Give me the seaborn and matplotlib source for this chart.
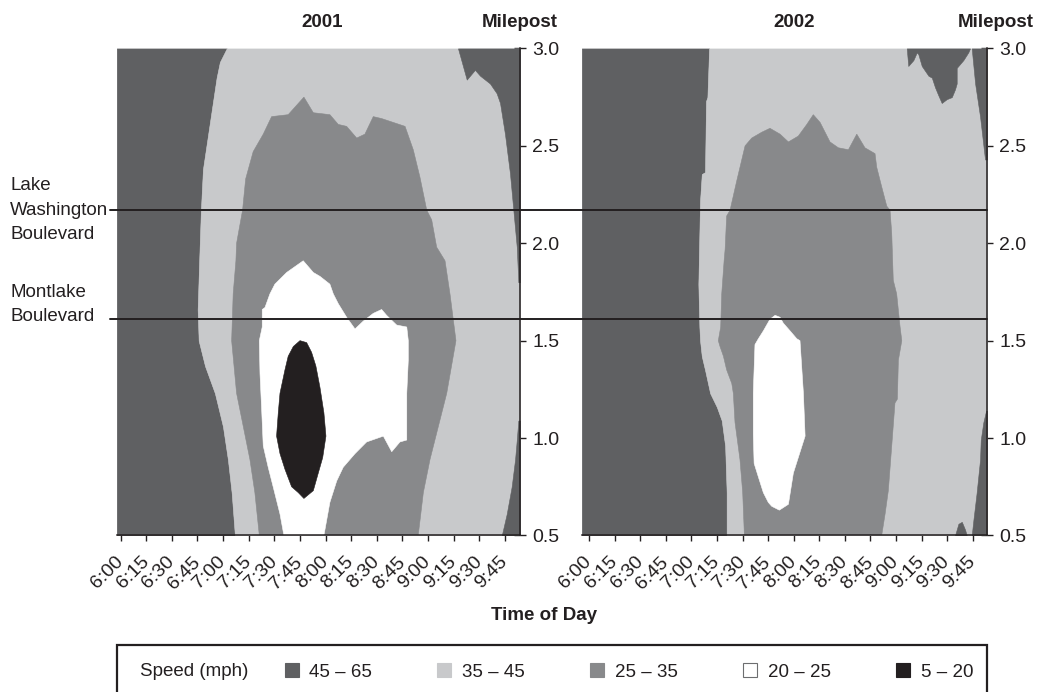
import matplotlib
matplotlib.use("Agg")
import matplotlib.pyplot as plt
import matplotlib.transforms as mtransforms
from matplotlib.lines import Line2D
from matplotlib.patches import Rectangle
import seaborn as sns

# speed bands (mph) and the grey used for each
bands = ["45 – 65", "35 – 45", "25 – 35", "20 – 25", "5 – 20"]
band_colors = ["#5f6062", "#c8c9cb", "#88898b", "#ffffff", "#231f20"]

# x axis = minutes after 6:00
time_ticks = [0, 15, 30, 45, 60, 75, 90, 105, 120, 135, 150, 165, 180, 195, 210, 225]
time_labels = ["6:00", "6:15", "6:30", "6:45", "7:00", "7:15", "7:30", "7:45",
               "8:00", "8:15", "8:30", "8:45", "9:00", "9:15", "9:30", "9:45"]
mile_ticks = [0.5, 1.0, 1.5, 2.0, 2.5, 3.0]

landmarks = ["Lake\nWashington\nBoulevard", "Montlake\nBoulevard"]
landmark_mile = [2.17, 1.61]

# ---- 2001 ----
edge45_2001_mile = [3.00, 2.93, 2.85, 2.68, 2.38, 2.17, 1.91, 1.66, 1.50, 1.37, 1.23, 1.06, 0.89, 0.72, 0.50]
edge45_2001_time = [62.1, 58.1, 56.2, 53.3, 48.2, 47.0, 46.0, 45.1, 45.7, 49.4, 55.2, 59.9, 62.8, 65.0, 66.9]

band25_2001_time = [81.2, 78.6, 75.7, 71.8, 67.9, 65.0, 65.9, 67.5, 67.9, 71.4, 73.2, 77.6, 83.5, 88.4,
                    98.1, 107.3, 112.8, 122.5, 127.4, 132.3, 138.2, 143.0, 147.9, 152.8, 166.5,
                    171.3, 175.2, 179.2, 182.1, 185.0, 189.9, 192.8, 196.3, 190.9, 186.0, 181.1, 177.2, 174.2]
band25_2001_mile = [0.50, 0.72, 0.89, 1.06, 1.23, 1.50, 1.74, 1.91, 2.00, 2.17, 2.33, 2.47, 2.56, 2.65,
                    2.66, 2.75, 2.67, 2.66, 2.61, 2.60, 2.54, 2.56, 2.65, 2.64, 2.60,
                    2.48, 2.34, 2.17, 2.12, 1.98, 1.91, 1.74, 1.50, 1.23, 1.06, 0.89, 0.72, 0.50]

band20_2001_time = [95.6, 93.3, 89.3, 86.4, 83.5, 82.6, 81.6, 81.2, 82.9, 82.9, 84.5, 87.4, 90.3, 97.2,
                    106.9, 112.8, 116.7, 122.5, 124.5, 127.4, 132.3, 137.2, 142.0, 147.9, 152.8,
                    155.7, 161.6, 167.5, 168.4, 168.4, 167.5, 167.5, 163.5, 158.7, 153.8, 144.0,
                    137.2, 130.3, 126.5, 122.5, 119.0]
band20_2001_mile = [0.50, 0.61, 0.75, 0.85, 0.96, 1.14, 1.33, 1.50, 1.57, 1.66, 1.67, 1.74, 1.79, 1.85,
                    1.91, 1.85, 1.83, 1.79, 1.74, 1.69, 1.62, 1.56, 1.60, 1.64, 1.66,
                    1.63, 1.58, 1.57, 1.50, 1.40, 1.23, 0.99, 0.98, 0.93, 1.01, 0.98,
                    0.92, 0.85, 0.78, 0.67, 0.50]

band5_2001_time = [105.0, 101.1, 98.1, 96.2, 93.3, 92.3, 91.3, 93.3, 96.2, 100.1, 104.0,
                   107.3, 112.8, 115.7, 118.3, 120.2, 119.0, 116.7, 114.3, 111.8, 108.9]
band5_2001_mile = [1.50, 1.47, 1.42, 1.35, 1.23, 1.13, 1.01, 0.92, 0.84, 0.75, 0.72,
                   0.69, 0.73, 0.82, 0.90, 1.01, 1.13, 1.26, 1.37, 1.44, 1.49]

# fast traffic coming back late in the peak (filled from the top / from the right)
late_top_2001_time = [197.5, 202.6, 207.4, 210.4, 216.2, 220.1, 222.1, 225.0, 227.9, 229.9, 231.9, 232.8, 233.8]
late_top_2001_mile = [3.00, 2.84, 2.89, 2.86, 2.82, 2.77, 2.72, 2.56, 2.36, 2.17, 1.98, 1.80, 1.80]
late_low_2001_mile = [0.50, 0.61, 0.75, 0.89, 0.99, 1.09]
late_low_2001_time = [223.1, 226.0, 228.9, 230.9, 231.9, 232.8]

# ---- 2002 ----
edge45_2002_mile = [3.00, 2.75, 2.73, 2.365, 2.355, 2.22, 2.05, 1.79, 1.57, 1.50, 1.42, 1.35,
                    1.23, 1.16, 1.09, 0.96, 0.72, 0.50]
edge45_2002_time = [70.4, 69.4, 68.6, 68.0, 66.1, 65.1, 64.7, 64.1, 64.7, 65.1, 66.1, 68.0,
                    71.0, 74.9, 77.8, 79.8, 80.7, 80.7]

band25_2002_time = [91.1, 90.1, 88.5, 85.6, 84.6, 83.7, 80.7, 78.8, 76.8, 75.8, 77.2, 77.8, 79.2,
                    79.8, 80.7, 82.7, 86.6, 91.5, 95.4, 101.3, 106.1, 112.0, 116.9, 122.7, 127.7,
                    131.5, 135.5, 141.3, 146.2, 152.1, 157.0, 161.8, 167.7, 168.7, 171.6, 174.6,
                    176.5, 177.5, 178.4, 180.4, 182.4, 183.4, 181.4, 180.8, 179.4, 177.5, 175.5,
                    173.6, 171.6]
band25_2002_mile = [0.50, 0.72, 0.89, 1.08, 1.23, 1.28, 1.35, 1.42, 1.47, 1.50, 1.57, 1.74, 1.91,
                    1.97, 2.14, 2.17, 2.32, 2.50, 2.54, 2.57, 2.59, 2.56, 2.52, 2.55, 2.61,
                    2.66, 2.62, 2.52, 2.49, 2.48, 2.56, 2.49, 2.46, 2.39, 2.29, 2.19,
                    2.17, 2.05, 1.81, 1.74, 1.57, 1.50, 1.40, 1.20, 1.18, 0.96, 0.73,
                    0.61, 0.50]

band20_2002_time = [109.1, 106.1, 102.2, 99.3, 97.3, 96.3, 96.3, 96.8, 99.3, 102.2, 105.1, 107.1,
                    111.6, 116.9, 119.8, 122.7, 126.7, 125.7, 123.7, 121.8, 117.9, 113.9, 112.0]
band20_2002_mile = [1.63, 1.61, 1.55, 1.51, 1.48, 1.23, 1.02, 0.87, 0.80, 0.72, 0.67, 0.65,
                    0.63, 0.66, 0.82, 0.90, 1.01, 1.23, 1.50, 1.51, 1.55, 1.59, 1.62]

late_top_2002_time = [186.3, 187.2, 190.2, 192.2, 193.1, 195.1, 199.0, 201.0, 202.9, 204.8,
                      206.8, 209.8, 212.7, 214.6, 215.6, 215.6, 219.5, 222.4, 223.4]
late_top_2002_mile = [3.00, 2.91, 2.94, 2.98, 2.97, 2.91, 2.86, 2.85, 2.80, 2.76,
                      2.72, 2.74, 2.75, 2.79, 2.82, 2.90, 2.94, 2.98, 3.00]
late_edge_2002_time = [224.4, 226.4, 229.3, 232.2, 233.4]
late_edge_2002_mile = [3.00, 2.82, 2.65, 2.43, 2.43]
late_low_2002_mile = [0.50, 0.58, 0.72, 0.89, 0.99, 1.08, 1.14]
late_low_2002_time = [224.4, 225.4, 227.3, 229.3, 229.7, 231.2, 232.8]
late_bump_2002_time = [214.6, 216.6, 218.6, 220.5, 221.5]
late_bump_2002_mile = [0.50, 0.56, 0.57, 0.53, 0.50]

sns.set_theme(style="ticks")
plt.rcParams["font.family"] = ["Liberation Sans", "DejaVu Sans"]
ink = "#231f20"
plt.rcParams["text.color"] = ink
fs = 13.5

fig = plt.figure(figsize=(10.39, 6.92), dpi=100)
ax1 = fig.add_axes([0.1123, 0.2262, 0.3882, 0.7038])
ax2 = fig.add_axes([0.5599, 0.2262, 0.3901, 0.7038])

dark, light, mid, white, black = band_colors


def fill_poly(ax, t, m, c):
    ax.fill(t, m, color=c, lw=0.4, ec=c)


def draw_panel(ax, span, edge_t, edge_m, b25, b20, b5, tops, lows, bumps, year, year_x, mile_x):
    ax.set_xlim(*span)
    ax.set_ylim(0.5, 3.0)
    ax.fill_betweenx(edge_m, span[0], edge_t, color=dark, lw=0.4, ec=dark)
    ax.fill_betweenx(edge_m, edge_t, span[1], color=light, lw=0.4, ec=light)
    fill_poly(ax, b25[0], b25[1], mid)
    fill_poly(ax, b20[0], b20[1], white)
    if b5 is not None:
        fill_poly(ax, b5[0], b5[1], black)
    for t, m in tops:
        ax.fill_between(t, m, 3.0, color=dark, lw=0.4, ec=dark)
    for m, t in lows:
        ax.fill_betweenx(m, t, span[1], color=dark, lw=0.4, ec=dark)
    for t, m in bumps:
        ax.fill_between(t, 0.5, m, color=dark, lw=0.4, ec=dark)

    ax.yaxis.tick_right()
    ax.set_xticks(time_ticks)
    ax.set_xticklabels(time_labels, rotation=45, ha="right", va="center", rotation_mode="anchor")
    ax.set_yticks(mile_ticks)
    ax.set_yticklabels([f"{v:.1f}" for v in mile_ticks])
    ax.tick_params(axis="x", direction="inout", length=8.5, width=1, color=ink,
                   labelsize=14, pad=13, labelcolor=ink)
    ax.tick_params(axis="y", direction="inout", length=8.5, width=1, color=ink,
                   labelsize=14, pad=4.5, labelcolor=ink)
    for s in ["top", "left"]:
        ax.spines[s].set_visible(False)
    for s in ["bottom", "right"]:
        ax.spines[s].set_color(ink)
        ax.spines[s].set_linewidth(1.1)
        ax.spines[s].set_zorder(5)
    ax.set_xlabel("")
    ax.set_ylabel("")
    ax.text(year_x, 1.054, year, transform=ax.transAxes, ha="center", va="center",
            fontsize=fs, fontweight="bold")
    ax.text(mile_x, 1.054, "Milepost", transform=ax.transAxes, ha="center", va="center",
            fontsize=fs, fontweight="bold")


draw_panel(ax1, (-2.3, 233.8), edge45_2001_time, edge45_2001_mile,
           (band25_2001_time, band25_2001_mile), (band20_2001_time, band20_2001_mile),
           (band5_2001_time, band5_2001_mile),
           [(late_top_2001_time, late_top_2001_mile)],
           [(late_low_2001_mile, late_low_2001_time)], [], "2001", 0.509, 1.0)
draw_panel(ax2, (-4.3, 233.4), edge45_2002_time, edge45_2002_mile,
           (band25_2002_time, band25_2002_mile), (band20_2002_time, band20_2002_mile),
           None,
           [(late_top_2002_time, late_top_2002_mile), (late_edge_2002_time, late_edge_2002_mile)],
           [(late_low_2002_mile, late_low_2002_time)],
           [(late_bump_2002_time, late_bump_2002_mile)], "2002", 0.524, 1.022)

# landmark lines run across both panels
trans = mtransforms.blended_transform_factory(fig.transFigure, ax1.transData)
for name, mp, dy in zip(landmarks, landmark_mile, [0.0, 0.075]):
    fig.add_artist(Line2D([110 / 1039, 987 / 1039], [mp, mp], transform=trans,
                          color=ink, lw=1.4, zorder=10))
    fig.text(10 / 1039, mp + dy, name, transform=trans, ha="left", va="center",
             fontsize=fs, linespacing=1.55)

fig.text(544 / 1039, 1 - 616 / 692, "Time of Day", ha="center", va="center",
         fontsize=fs, fontweight="bold")

# legend: boxed strip along the bottom, running off the lower edge
fig.add_artist(Rectangle((116.7 / 1039, -0.02), 870 / 1039, 0.02 + 1 - 645 / 692,
                         transform=fig.transFigure, fill=False, ec=ink, lw=1.6, zorder=10))
fig.text(140 / 1039, 1 - 672 / 692, "Speed (mph)", ha="left", va="center", fontsize=fs)
handles = []
for name, c in zip(bands, band_colors):
    ec = "#6d6e70" if c == "#ffffff" else c
    handles.append(Line2D([], [], ls="none", marker="s", markersize=9.5,
                          markerfacecolor=c, markeredgecolor=ec, markeredgewidth=0.8))
fig.legend(handles, bands, ncol=5, loc="center left",
           bbox_to_anchor=(285 / 1039, 1 - 672 / 692), frameon=False, fontsize=fs,
           handlelength=0.7, handletextpad=0.6, columnspacing=3.5, borderpad=0,
           borderaxespad=0)

fig.savefig("out.png", dpi=100)
